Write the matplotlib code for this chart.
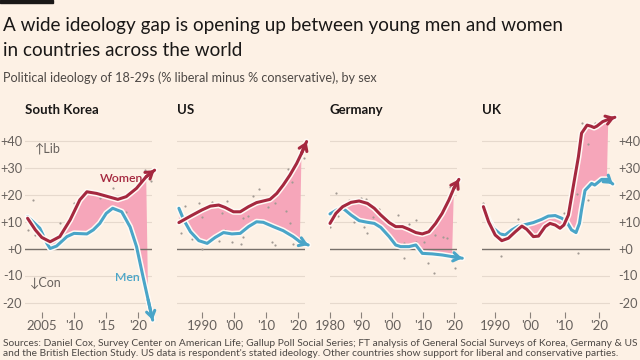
import matplotlib
matplotlib.use("Agg")
import matplotlib.pyplot as plt
import matplotlib.patheffects as pe
import numpy as np

plt.rcParams['font.family'] = ['Lato', 'DejaVu Sans']

# ---- data (% liberal minus % conservative, 18-29s) ----
sk_w_years = [2002.8, 2004.0, 2005.0, 2006.3, 2007.8, 2009.4, 2010.9, 2012.0, 2013.5, 2015.0, 2016.8, 2018.1, 2019.7, 2021.2, 2022.5]
sk_w_vals = [11.2, 6.9, 4.1, 2.5, 4.4, 10.6, 18, 21, 20.4, 19.4, 18.2, 19.2, 22.3, 26.6, 29]
sk_m_years = [2002.8, 2004.7, 2005.8, 2006.3, 2007.3, 2008.9, 2010.0, 2012.0, 2013.0, 2014.0, 2015.0, 2016.0, 2017.4, 2018.7, 2019.7, 2020.7, 2021.5, 2022.2]
sk_m_vals = [11.8, 7.5, 1.9, 0, 0.9, 4.4, 5.6, 5.4, 6.9, 9.3, 13, 14.9, 13.6, 8, 0.7, -10.4, -19, -26.5]
sk_dot_years = [2002.8, 2003.7, 2002.9, 2004.0, 2007.8, 2010.0, 2014.0, 2016.0, 2018.0, 2021.0, 2022.0]
sk_dot_vals = [12, 18, 6.8, 5, 9.3, 16.7, 18.6, 22.3, 13.6, 29, 25]

us_w_years = [1982.8, 1986.4, 1990, 1992.6, 1995.2, 1997.2, 1999.8, 2001.9, 2004.5, 2007, 2009.1, 2011.2, 2013.3, 2015.3, 2017.4, 2019.5, 2021, 2022.6]
us_w_vals = [9.6, 12, 14.3, 15.7, 16.1, 15.2, 13.6, 13.6, 15.5, 17, 17.6, 18.2, 20.4, 23.5, 27.2, 31.5, 35.2, 39.6]
us_m_years = [1982.8, 1984.3, 1986.4, 1989, 1991.6, 1994.1, 1996.7, 1999.3, 2001.9, 2004.5, 2007, 2009.1, 2012.2, 2015.3, 2018.4, 2020.5, 2023.1]
us_m_vals = [14.9, 10.6, 6.2, 2.9, 1.9, 4.1, 5.9, 5.4, 5.6, 8.1, 9.9, 9.7, 8.1, 6.6, 4.4, 2.5, 1.3]
us_dot_years = [1984.8, 1983.6, 1989, 1993, 1997.8, 1990, 1996.2, 1986.9, 1990, 1995.2, 1999.3, 2002, 2002.9, 2004.2, 2006, 2007.9,
                2010.7, 2012.8, 2011.7, 2012.8, 2016.2, 2016.9, 2017.9, 2017.4, 2018.4, 2021.7, 2002.7, 1997.2]
us_dot_vals = [15.7, 5.9, 17, 17.3, 17.6, 11.5, 13.3, 3.4, -0.3, 2.9, 2.5, 1.7, 11.2, 12, 19.4, 22,
               15.5, 17, 2.5, 1.3, 14, 29.3, 24.8, 9.6, 1.7, 33.4, 4.4, 6.8]

de_w_years = [1980, 1981.9, 1984.1, 1986.8, 1989.4, 1992.1, 1994.3, 1996.4, 1999.1, 2001.2, 2003.4, 2005.5, 2007.7, 2009.8, 2011.9, 2014.1, 2016.2, 2018.4, 2020, 2021.6]
de_w_vals = [9.3, 13, 15.5, 17.1, 17.6, 16.7, 14.9, 12.4, 9.6, 8.1, 8.1, 7.1, 5.9, 5.4, 6.2, 9.3, 13, 18, 22.3, 25.6]
de_m_years = [1980, 1982.5, 1984.6, 1986.8, 1989.4, 1992.1, 1994.3, 1996.4, 1999.1, 2001.2, 2002.8, 2005.5, 2007.7, 2009.8, 2013, 2016.2, 2019.4, 2022.7]
de_m_vals = [12.8, 14.5, 14.5, 12.4, 10.3, 9.7, 9.3, 7.8, 4.4, 1.3, 0.7, 0.7, 1.3, -1.8, -2, -2.4, -3, -3.6]
de_dot_years = [1980, 1982, 1982.5, 1986.2, 1990, 1991.6, 1987.8, 1991, 1992.1, 1994, 1995.9, 2001.8, 2003.9, 2003.9,
                2005.5, 2007.9, 2010.3, 2011.7, 2013.5, 2013.9, 2015.7, 2016.4, 2017.8, 2020.5, 2018.9, 2007.9]
de_dot_vals = [8.1, 20.4, 12, 18, 18.6, 18.3, 9.9, 8.1, 5.9, 11.5, 14.5, 12.4, -3.6, 2.2,
               9.1, 10.6, 2.5, -5.5, -9, 5, 14.3, 4.4, 4, -7.3, 22.6, 2.5]

uk_w_years = [1986.6, 1988.1, 1990, 1991.9, 1993.8, 1995.8, 1997.7, 1999.1, 2001, 2002.5, 2004.4, 2005.8, 2007.3, 2008.7, 2009.8,
              2011.1, 2012.5, 2014, 2014.9, 2016.5, 2017.6, 2018.5, 2019.3, 2021.0, 2022.6, 2024.5]
uk_w_vals = [15.5, 9.9, 5, 2.9, 3.8, 6.2, 8.3, 7.1, 4.4, 4.6, 8.1, 9.3, 8.7, 7.5, 8.7,
             12.4, 22.9, 34, 42.7, 45.7, 45.3, 44.8, 45.3, 47, 47.8, 48.6]
uk_m_years = [1986.6, 1988.1, 1989.5, 1991.4, 1992.9, 1994.8, 1996.7, 1999.1, 2001, 2003.4, 2005.3, 2007.3, 2009.2, 2010.6, 2012,
              2013.3, 2014.3, 2014.9, 2015.9, 2017.8, 2018.7, 2020.7, 2022.2, 2023.9]
uk_m_vals = [15.5, 10.8, 7.5, 5.4, 5, 6.9, 8.3, 9, 9.6, 10.8, 12, 12.2, 11.2, 9.9, 6.9,
             5.9, 9.3, 14.3, 21.5, 24.1, 23.5, 25.6, 25.6, 23.9]
uk_dot_years = [1986.6, 1991.6, 1996.7, 2009.8, 2013.7, 2014.0, 2014.9, 2016.8, 2016.8, 2018.8]
uk_dot_vals = [17, -2.6, 10.8, 13, 20.2, -1.5, 46.6, 38.7, 18, 46.4]

countries = ['South Korea', 'US', 'Germany', 'UK']
x_ranges = [(2002.4, 2022.1), (1982.2, 2022.1), (1980.0, 2021.0), (1986.2, 2023.1)]
x_ticks = [[2005, 2010, 2015, 2020], [1990, 2000, 2010, 2020], [1980, 1990, 2000, 2010, 2020], [1990, 2000, 2010, 2020]]
x_ticklabels = [['2005', "'10", "'15", "'20"], ['1990', "'00", "'10", "'20"],
                ['1980', "'90", "'00", "'10", "'20"], ['1990', "'00", "'10", "'20"]]
y_ticks = [-20, -10, 0, 10, 20, 30, 40]
y_ticklabels = ['-20', '-10', '+0', '+10', '+20', '+30', '+40']

series = [
    (sk_w_years, sk_w_vals, sk_m_years, sk_m_vals, sk_dot_years, sk_dot_vals),
    (us_w_years, us_w_vals, us_m_years, us_m_vals, us_dot_years, us_dot_vals),
    (de_w_years, de_w_vals, de_m_years, de_m_vals, de_dot_years, de_dot_vals),
    (uk_w_years, uk_w_vals, uk_m_years, uk_m_vals, uk_dot_years, uk_dot_vals),
]

bg = '#fdf1e5'
women_c = '#a5283f'
men_c = '#4aa5c8'
fill_c = '#f6a6ba'
grid_c = '#e6d9cd'
zero_c = '#77706a'
text_c = '#66605c'

fig = plt.figure(figsize=(6.4, 3.6), dpi=100, facecolor=bg)

# axes extents in pixels
panel_px = [(25, 152), (177, 305), (330, 457), (482, 610)]
top_px, bot_px = 113.5, 311.95

halo = [pe.Stroke(linewidth=4.4, foreground='#fffaf5'), pe.Normal()]

for i, (name, (x0, x1)) in enumerate(zip(countries, panel_px)):
    ax = fig.add_axes([x0 / 640, 1 - bot_px / 360, (x1 - x0) / 640, (bot_px - top_px) / 360])
    ax.set_facecolor('none')
    wx, wy, mx, my, dx, dy = series[i]
    ax.set_xlim(*x_ranges[i])
    ax.set_ylim(-23.5, 50)

    for g in [-20, -10, 10, 20, 30, 40]:
        ax.axhline(g, color=grid_c, lw=0.8, zorder=0)

    # gap between women and men, without the arrow tips
    poly_x = np.concatenate([wx[:-1], mx[:-1][::-1]])
    poly_y = np.concatenate([wy[:-1], my[:-1][::-1]])
    ax.fill(poly_x, poly_y, color=fill_c, lw=0, zorder=1)
    ax.axhline(0, color=zero_c, lw=1.0, zorder=2)

    ax.scatter(dx, dy, s=2.5, color='#a29a93', lw=0, zorder=3)

    for xs, ys, c in [(mx, my, men_c), (wx, wy, women_c)]:
        ax.plot(xs, ys, color=c, lw=2.2, solid_capstyle='round', solid_joinstyle='round',
                path_effects=halo, clip_on=False, zorder=4)
        ax.annotate('', xy=(xs[-1], ys[-1]), xytext=(xs[-2], ys[-2]),
                    arrowprops=dict(arrowstyle='->,head_length=0.45,head_width=0.3', color=c, lw=2.2,
                                    shrinkA=0, shrinkB=0, joinstyle='miter'),
                    annotation_clip=False, zorder=5)

    for s in ax.spines.values():
        s.set_visible(False)
    ax.set_xticks(x_ticks[i])
    ax.set_xticklabels(x_ticklabels[i])
    ax.tick_params(axis='x', length=4, width=0.8, color='#8a827b', labelsize=9.5, labelcolor=text_c, pad=1.5)
    ax.set_yticks(y_ticks)
    if i == 0:
        ax.set_yticklabels(y_ticklabels)
        ax.tick_params(axis='y', length=0, labelsize=9.2, labelcolor=text_c, pad=2)
    elif i == 3:
        ax.yaxis.tick_right()
        ax.set_yticklabels(y_ticklabels, ha='left')
        ax.tick_params(axis='y', length=0, labelsize=9.2, labelcolor=text_c, pad=6)
    else:
        ax.set_yticklabels([])
        ax.tick_params(axis='y', length=0)

    fig.text(x0 / 640, 1 - 114 / 360, name, fontsize=9.5, fontweight='bold', color='#1a1817', va='baseline')

    if i == 0:
        ax.text(2014.0, 26.0, 'Women', color=women_c, fontsize=8.8, fontweight='semibold', va='center', zorder=6)
        ax.text(2016.4, -10.6, 'Men', color=men_c, fontsize=8.8, fontweight='semibold', va='center', zorder=6)
        ax.text(2004.0, 37.2, '\u2191Lib', color=text_c, fontsize=9, va='center', family=['Lato', 'DejaVu Sans'])
        ax.text(2003.1, -12.7, '\u2193Con', color=text_c, fontsize=9, va='center', family=['Lato', 'DejaVu Sans'])

# header
fig.patches.append(plt.Rectangle((0, 1 - 3 / 360), 53 / 640, 3 / 360, transform=fig.transFigure,
                                 color='#1a1817', zorder=10))
fig.text(0.004, 1 - 31.5 / 360, 'A wide ideology gap is opening up between young men and women',
         fontsize=13.6, color='#1a1817', va='baseline')
fig.text(0.004, 1 - 56 / 360, 'in countries across the world', fontsize=13.6, color='#1a1817', va='baseline')
fig.text(0.004, 1 - 82.5 / 360, 'Political ideology of 18-29s (% liberal minus % conservative), by sex',
         fontsize=9.1, color='#4d4845', va='baseline')

fig.text(0.004, 1 - 346.5 / 360, 'Sources: Daniel Cox, Survey Center on American Life; Gallup Poll Social Series; '
         'FT analysis of General Social Surveys of Korea, Germany & US', fontsize=7.4, color='#4d4845', va='baseline')
fig.text(0.004, 1 - 356.5 / 360, "and the British Election Study. US data is respondent's stated ideology. "
         'Other countries show support for liberal and conservative parties.', fontsize=7.4, color='#4d4845',
         va='baseline')

fig.savefig('out.png', dpi=100, facecolor=bg)
